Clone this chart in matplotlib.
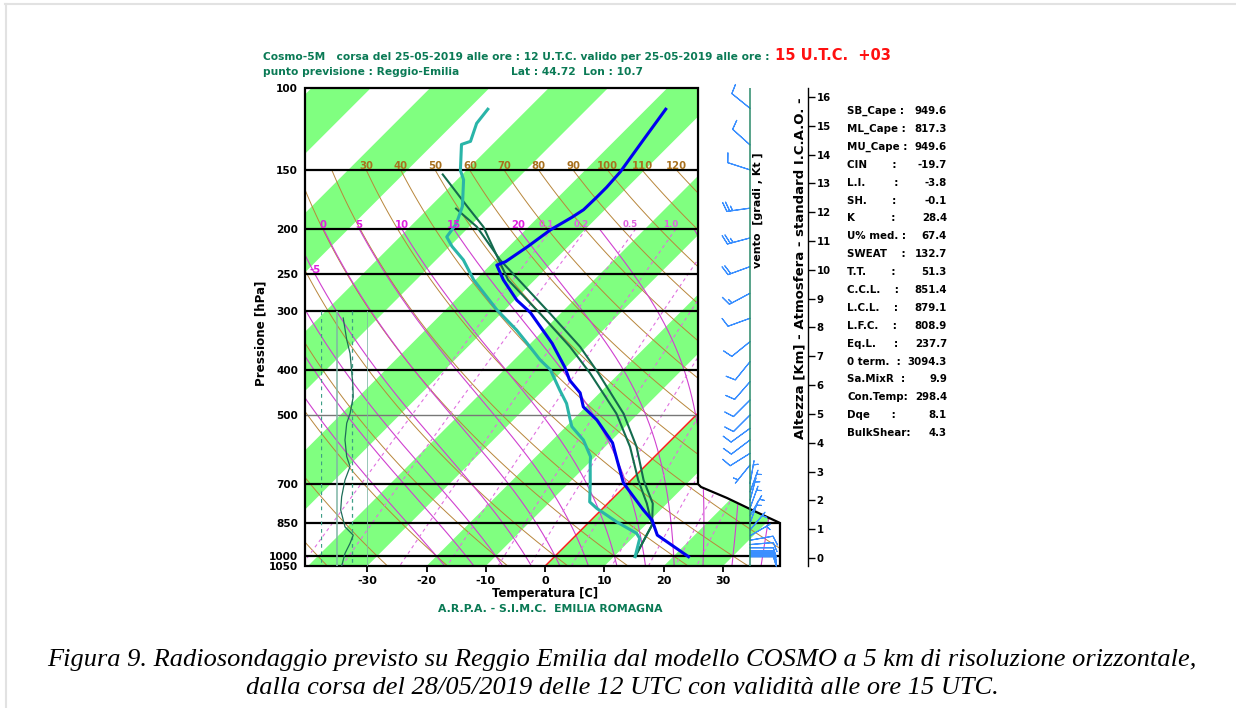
import numpy as np
import matplotlib
matplotlib.use('Agg')
import matplotlib.pyplot as plt
from matplotlib.transforms import Affine2D, offset_copy
from matplotlib.patches import Polygon
from matplotlib.lines import Line2D

plt.rcParams['font.family'] = ['DejaVu Sans']
plt.rcParams['font.weight'] = 'bold'

# ------------------------------------------------------------------ data
# temperature profile (hPa, degC)
temp_p = [1003, 902, 838, 797, 698, 624, 573, 512, 480, 448, 421, 395, 351, 302,
          284, 257, 239, 235, 218, 201, 189, 182, 171, 163, 151, 129, 111]
temp_T = [22.6, 13.7, 10.3, 7.1, -0.8, -5.7, -9.4, -15.9, -20.4, -23.3, -27.2, -30.2,
          -36.4, -45.2, -49.6, -55.3, -58.9, -58.0, -56.8, -55.8, -54.3, -53.6,
          -53.5, -53.5, -53.8, -55.3, -56.7]
# dew point profile
dew_p = [1003, 917, 894, 845, 791, 766, 698, 634, 613, 565, 529, 512, 472, 442, 400,
         381, 351, 329, 298, 257, 233, 218, 208, 195, 179, 157, 150, 132, 130, 119, 111]
dew_T = [13.6, 11.3, 9.9, 4.6, -1.0, -3.3, -6.4, -9.7, -10.8, -14.8, -19.0, -20.4,
         -23.8, -27.2, -32.2, -35.6, -40.6, -44.6, -51.3, -60.3, -65.4, -69.6, -72.1,
         -72.7, -74.6, -78.9, -81.0, -85.2, -84.2, -86.2, -86.7]
# parcel curves
parcel1_p = [1003, 858, 772, 688, 584, 496, 407, 357, 303, 257, 229, 198, 179, 153]
parcel1_T = [13.6, 11.1, 6.6, 1.2, -5.8, -13.7, -24.9, -32.8, -43.5, -54.5, -60.3,
             -67.6, -73.8, -83.3]
parcel2_p = [1003, 858, 772, 688, 584, 496, 407, 357, 303, 257, 233, 198, 181]
parcel2_T = [13.6, 11.1, 7.6, 2.1, -4.7, -12.5, -23.5, -31.1, -41.8, -52.7, -59.2,
             -68.7, -75.3]
# small side panel profile
side_p = [310, 345, 369, 428, 457, 496, 520, 565, 613, 644, 688, 747, 797, 866, 902,
          939, 987, 1050]
side_v = [1.42, 1.64, 1.85, 2.02, 2.05, 1.85, 1.64, 1.53, 1.64, 1.85, 1.53, 1.32,
          1.26, 1.53, 2.05, 1.85, 1.53, 1.32]
side_refs = [0, 1, 2, 3]
# wind (pressure, direction from, speed kt)
wind_p = [110.5, 132.3, 149.6, 180.6, 209.1, 240.8, 274.5, 310.4, 348.3, 384.4, 424.1,
          464.1, 499.6, 533.5, 565.1, 603.3, 639.0,
          700, 730, 760, 790, 820, 850, 880, 905, 925, 945, 960, 975, 985, 995, 1003]
wind_dir = [309, 312, 288, 262, 255, 250, 242, 250, 231, 219, 221, 225, 225, 234, 233,
            238, 219,
            10, 20, 15, 20, 30, 20, 40, 60, 80, 85, 90, 90, 90, 90, 90]
wind_spd = [10, 10, 10, 25, 25, 20, 15, 10, 10, 10, 10, 10, 10, 10, 10, 10, 5,
            5, 5, 5, 5, 5, 5, 5, 5, 10, 10, 10, 10, 10, 10, 10]
# diagram reference line families
band_starts = list(range(-140, 41, 20))
dry_theta = list(range(-40, 121, 10))
dry_labels = list(range(30, 121, 10))
moist_tw = list(range(-20, 36, 5))
moist_labels = [-5, 0, 5, 10, 15, 20]
moist_label_p = [250, 200, 200, 200, 200, 200]
mix_w = [0.1, 0.2, 0.5, 1.0, 2.0, 3.0, 5.0, 8.0, 12.0, 16.0, 20.0]
mix_labels = [0.1, 0.2, 0.5, 1.0]
isobars_black = [150, 200, 250, 300, 400, 700, 850, 1000]
isobar_grey = [500]
press_ticks = [100, 150, 200, 250, 300, 400, 500, 700, 850, 1000, 1050]
temp_ticks = [-30, -20, -10, 0, 10, 20, 30]
km_ticks = list(range(0, 17))
stat_names = ["SB_Cape :", "ML_Cape :", "MU_Cape :", "CIN       :", "L.I.        :",
              "SH.       :", "K          :", "U% med. :", "SWEAT    :",
              "T.T.       :", "C.C.L.    :", "L.C.L.    :", "L.F.C.    :",
              "Eq.L.     :", "0 term.  :", "Sa.MixR  :", "Con.Temp:", "Dqe      :",
              "BulkShear:"]
stat_values = ["949.6", "817.3", "949.6", "-19.7", "-3.8", "-0.1", "28.4", "67.4",
               "132.7", "51.3", "851.4", "879.1", "808.9", "237.7", "3094.3", "9.9",
               "298.4", "8.1", "4.3"]

# ------------------------------------------------------------------ layout
W, H = 1236, 708
fig = plt.figure(figsize=(W / 100, H / 100), dpi=100)


def box(x0, y0, x1, y1):
    return [x0 / W, 1 - y1 / H, (x1 - x0) / W, (y1 - y0) / H]


GREEN_TXT = '#0A7A55'

ax = fig.add_axes(box(305, 88, 780, 566))
ax.set_yscale('log')
ax.set_xlim(-40.5, 39.6)
ax.set_ylim(1050, 100)
ax.set_autoscale_on(False)
ax.patch.set_visible(False)
for s in ax.spines.values():
    s.set_visible(False)

skew = ax.transScale + ax.transLimits + Affine2D().skew(np.arctan(478 / 475), 0) + ax.transAxes

frame = Polygon([(0, 1), (0.8274, 1), (0.8274, 0.1715), (0.8337, 0.1653), (0.8884, 0.1423),
                 (0.9411, 0.1172), (1, 0.09), (1, 0), (0, 0)], closed=True,
                transform=ax.transAxes, facecolor='none', edgecolor='black', lw=1.6,
                zorder=20, clip_on=False)
ax.add_patch(frame)


def clip(a):
    a.set_clip_path(frame)
    return a


# green isotherm bands
for t0 in band_starts:
    clip(ax.add_patch(Polygon([(t0, 1050), (t0 + 10, 1050), (t0 + 10, 100), (t0, 100)],
                              transform=skew, facecolor='#80FF80', edgecolor='none', zorder=1)))

# dry adiabats
pd_ = np.geomspace(150, 1050, 80)
for th in dry_theta:
    T = (th + 273.15) * (pd_ / 1000.0) ** 0.2857 - 273.15
    clip(ax.plot(T, pd_, transform=skew, color='#B8863B', lw=0.7, zorder=3)[0])
lab_tr = offset_copy(skew, fig=fig, x=0, y=4, units='dots')
for th in dry_labels:
    T = (th + 273.15) * (150 / 1000.0) ** 0.2857 - 273.15
    ax.text(T, 150, str(th), transform=lab_tr, color='#A8701E', fontsize=7.3,
            ha='center', va='center', zorder=25)

# moist adiabats
Rd, cp, Lv, eps = 287.04, 1005.7, 2.501e6, 0.622


def dT_dlnp(T, p):
    Tc = T - 273.15
    es = 6.112 * np.exp(17.67 * Tc / (Tc + 243.5))
    rs = eps * es / (p - es)
    return (Rd * T + Lv * rs) / (cp + Lv ** 2 * rs * eps / (Rd * T ** 2))


def moist_curve(tw, p_end, n=160):
    lnp = np.linspace(np.log(1000.0), np.log(p_end), n)
    T = np.empty(n)
    T[0] = tw + 273.15
    for i in range(1, n):
        h = lnp[i] - lnp[i - 1]
        k1 = dT_dlnp(T[i - 1], np.exp(lnp[i - 1]))
        k2 = dT_dlnp(T[i - 1] + h * k1, np.exp(lnp[i]))
        T[i] = T[i - 1] + h * (k1 + k2) / 2
    return np.exp(lnp), T - 273.15


moist_cache = {}
for tw in moist_tw:
    pu, Tu = moist_curve(tw, 200)
    pl, Tl = moist_curve(tw, 1050, 10)
    pp = np.concatenate([pl[::-1], pu[1:]])
    TT = np.concatenate([Tl[::-1], Tu[1:]])
    moist_cache[tw] = (pp, TT)
    clip(ax.plot(TT, pp, transform=skew, color='#D040D0', lw=0.8, zorder=3)[0])
for tw, pl in zip(moist_labels, moist_label_p):
    pp, TT = moist_cache[tw]
    Tlab = np.interp(np.log(pl), np.log(pp[::-1]), TT[::-1])
    ax.text(Tlab, pl, str(tw), transform=lab_tr, color='#E020E0', fontsize=7.3,
            ha='center', va='center', zorder=25)


def td_from_w(w, p):
    e = w * p / (622.0 + w)
    a = np.log(e / 6.112)
    return 243.5 * a / (17.67 - a)


pm = np.geomspace(200, 1050, 40)
for w in mix_w:
    clip(ax.plot(td_from_w(w, pm), pm, transform=skew, color='#E070E0', lw=0.8,
                 ls=(0, (3, 3)), zorder=3)[0])
mix_tr = offset_copy(skew, fig=fig, x=-5, y=4, units='dots')
for w in mix_labels:
    ax.text(td_from_w(w, 200), 200, str(w), transform=mix_tr, color='#E060E0',
            fontsize=6.2, ha='center', va='center', zorder=25)

# freezing isotherm
clip(ax.plot([0, 0], [1050, 100], transform=skew, color='#FF2020', lw=1.1, zorder=4)[0])

# isobars
for p in isobars_black:
    clip(ax.axhline(p, color='black', lw=1.6, zorder=6))
for p in isobar_grey:
    clip(ax.axhline(p, color='#777777', lw=1.0, zorder=6))

# profiles
clip(ax.plot(parcel1_T, parcel1_p, transform=skew, color='#146B4E', lw=1.5, zorder=8)[0])
clip(ax.plot(parcel2_T, parcel2_p, transform=skew, color='#146B4E', lw=1.5, zorder=8)[0])
clip(ax.plot(dew_T, dew_p, transform=skew, color='#2AB5A8', lw=2.2, zorder=9)[0])
clip(ax.plot(temp_T, temp_p, transform=skew, color='#0000F0', lw=2.2, zorder=10)[0])

# axes ticks
ax.set_yticks(press_ticks)
ax.set_yticklabels([str(p) for p in press_ticks])
ax.yaxis.set_minor_locator(matplotlib.ticker.NullLocator())
ax.tick_params(axis='y', length=0, pad=5, labelsize=7.6)
ax.set_xticks(temp_ticks)
ax.set_xticklabels([str(t) for t in temp_ticks])
ax.tick_params(axis='x', direction='out', length=4, width=1.3, pad=3, labelsize=8)

# side mini panel
axm = fig.add_axes(box(320.7, 88, 368.3, 566))
axm.set_yscale('log')
axm.set_ylim(1050, 100)
axm.set_xlim(0, 3)
axm.axis('off')
for r in side_refs:
    if r % 2 == 0:
        axm.vlines(r, 300, 1050, color='#3E9E86', lw=0.9, linestyles=(0, (3, 3)))
    else:
        axm.vlines(r, 300, 1050, color='#7FB5A5', lw=1.1)
axm.plot(side_v, side_p, color='#1E6E58', lw=0.9)

# wind column
axw = fig.add_axes(box(700, 88, 790, 566))
axw.set_yscale('log')
axw.set_ylim(1050, 100)
axw.set_xlim(700, 790)
axw.axis('off')
axw.axvline(750, color='#2A8A6A', lw=1.1)
d = np.radians(wind_dir)
u = -np.array(wind_spd) * np.sin(d)
v = -np.array(wind_spd) * np.cos(d)
axw.barbs(np.full(len(wind_p), 750.0), wind_p, u, v, length=5.8, color='#3A8FFF',
          linewidth=0.8, clip_on=False)

# height axis
axk = fig.add_axes(box(800, 88, 808, 566))
axk.set_ylim(-0.278, 16.31)
axk.patch.set_visible(False)
for nm, s in axk.spines.items():
    s.set_visible(nm == 'right')
axk.spines['right'].set_linewidth(1.0)
axk.yaxis.tick_right()
axk.set_yticks(km_ticks)
axk.set_yticklabels([str(k) for k in km_ticks])
axk.set_xticks([])
axk.tick_params(axis='y', direction='out', length=5, width=1.0, pad=1, labelsize=7.3)

# texts
fig.text(263 / W, 1 - 57 / H,
         "Cosmo-5M   corsa del 25-05-2019 alle ore : 12 U.T.C. valido per 25-05-2019 alle ore :",
         color=GREEN_TXT, fontsize=7.7, ha='left', va='center')
fig.text(775 / W, 1 - 56 / H, "15 U.T.C.  +03", color='#FF1010', fontsize=10.5,
         ha='left', va='center')
fig.text(263 / W, 1 - 72 / H, "punto previsione : Reggio-Emilia", color=GREEN_TXT,
         fontsize=7.7, ha='left', va='center')
fig.text(511 / W, 1 - 72 / H, "Lat : 44.72  Lon : 10.7", color=GREEN_TXT,
         fontsize=7.7, ha='left', va='center')
fig.text(261 / W, 1 - 333 / H, "Pressione [hPa]", rotation=90, fontsize=8.6,
         ha='center', va='center')
fig.text(545 / W, 1 - 593 / H, "Temperatura [C]", fontsize=8.3, ha='center', va='center')
fig.text(550 / W, 1 - 609 / H, "A.R.P.A. - S.I.M.C.  EMILIA ROMAGNA", color=GREEN_TXT,
         fontsize=7.8, ha='center', va='center')
fig.text(758 / W, 1 - 210 / H, "vento  [gradi , Kt ]", rotation=90, fontsize=8,
         ha='center', va='center')
fig.text(800 / W, 1 - 268 / H, "Altezza [Km] - Atmosfera - standard I.C.A.O. -",
         rotation=90, fontsize=9.5, ha='center', va='center')
for i, (nm, val) in enumerate(zip(stat_names, stat_values)):
    y = 111 + 17.9 * i
    fig.text(847 / W, 1 - y / H, nm, fontsize=7.4, ha='left', va='center')
    fig.text(947 / W, 1 - y / H, val, fontsize=7.4, ha='right', va='center')

cap_font = dict(family=['Liberation Serif', 'DejaVu Serif'], style='italic',
                weight='normal', fontsize=19, ha='center', va='center')
fig.text(622 / W, 1 - 660 / H,
         "Figura 9. Radiosondaggio previsto su Reggio Emilia dal modello COSMO a 5 km di risoluzione orizzontale,",
         **cap_font)
fig.text(622 / W, 1 - 688 / H,
         "dalla corsa del 28/05/2019 delle 12 UTC con validità alle ore 15 UTC.",
         **cap_font)

# outer light frame
fig.add_artist(Line2D([5 / W, 1], [1 - 4 / H, 1 - 4 / H], color='#E2E2E2', lw=1.5,
                      transform=fig.transFigure))
fig.add_artist(Line2D([6 / W, 6 / W], [0, 1 - 4 / H], color='#E2E2E2', lw=1.5,
                      transform=fig.transFigure))

fig.savefig('out.png', dpi=100)
